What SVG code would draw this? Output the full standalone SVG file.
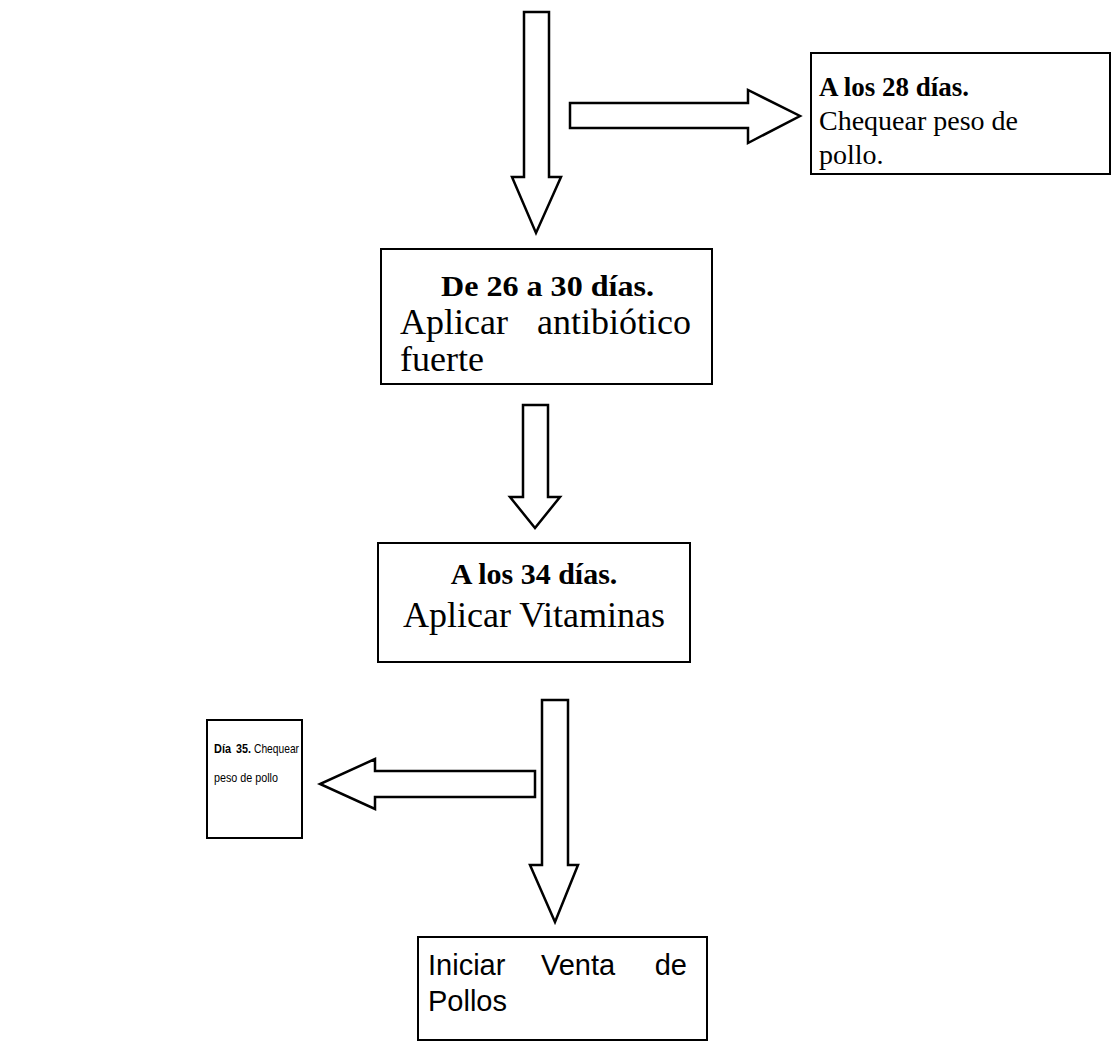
<svg xmlns="http://www.w3.org/2000/svg" width="1112" height="1057" viewBox="0 0 1112 1057">
<style>
.box{fill:#fff;stroke:#000;stroke-width:2}
.arr{fill:#fff;stroke:#000;stroke-width:2.5;stroke-linejoin:miter}
.tb{font-family:"Liberation Serif","Times New Roman",serif;font-weight:bold;fill:#000}
.tr{font-family:"Liberation Serif","Times New Roman",serif;fill:#000}
.ab{font-family:"Liberation Sans",Arial,sans-serif;font-weight:bold;fill:#000}
.ar{font-family:"Liberation Sans",Arial,sans-serif;fill:#000}
</style>
<rect width="1112" height="1057" fill="#fff"/>
<g id="connectors">
<polygon class="arr" points="524,12 549,12 549,177 561,177 536,233 512,177 524,177"/>
<polygon class="arr" points="570,103 748,103 748,90 800,116 748,143 748,128 570,128"/>
<polygon class="arr" points="523,405 548,405 548,497 560,497 535,528 510,497 523,497"/>
<polygon class="arr" points="542,700 568,700 568,865 578,865 555,922 530,865 542,865"/>
<polygon class="arr" points="535,771 375,771 375,759 320,784 375,809 375,797 535,797"/>
</g>
<g id="n28">
<rect class="box" x="811" y="53" width="299" height="121"/>
<text class="tb" x="819" y="96" font-size="27">A los 28 días.</text>
<text class="tr" x="819" y="130" font-size="28">Chequear peso de</text>
<text class="tr" x="819" y="164" font-size="28">pollo.</text>
</g>
<g id="n26">
<rect class="box" x="381" y="249" width="331" height="135"/>
<text class="tb" x="441" y="296" font-size="30" textLength="213" lengthAdjust="spacingAndGlyphs">De 26 a 30 días.</text>
<text class="tr" x="400" y="334" font-size="36">Aplicar</text>
<text class="tr" x="691" y="334" font-size="36" text-anchor="end">antibiótico</text>
<text class="tr" x="400" y="371" font-size="36">fuerte</text>
</g>
<g id="n34">
<rect class="box" x="378" y="543" width="312" height="119"/>
<text class="tb" x="534" y="584" font-size="30" text-anchor="middle">A los 34 días.</text>
<text class="tr" x="534" y="627" font-size="36" text-anchor="middle">Aplicar Vitaminas</text>
</g>
<g id="n35">
<rect class="box" x="207" y="720" width="95" height="118"/>
<text class="ab" x="214" y="753" font-size="13" textLength="17" lengthAdjust="spacingAndGlyphs">Día</text>
<text class="ab" x="236" y="753" font-size="13" textLength="15" lengthAdjust="spacingAndGlyphs">35.</text>
<text class="ar" x="254" y="753" font-size="13" textLength="45" lengthAdjust="spacingAndGlyphs">Chequear</text>
<text class="ar" x="214" y="782" font-size="13" textLength="64" lengthAdjust="spacingAndGlyphs">peso de pollo</text>
</g>
<g id="nventa">
<rect class="box" x="418" y="937" width="289" height="103"/>
<text class="ar" x="428" y="975" font-size="29">Iniciar</text>
<text class="ar" x="578" y="975" font-size="29" text-anchor="middle">Venta</text>
<text class="ar" x="687" y="975" font-size="29" text-anchor="end">de</text>
<text class="ar" x="428" y="1011" font-size="29">Pollos</text>
</g>
</svg>
